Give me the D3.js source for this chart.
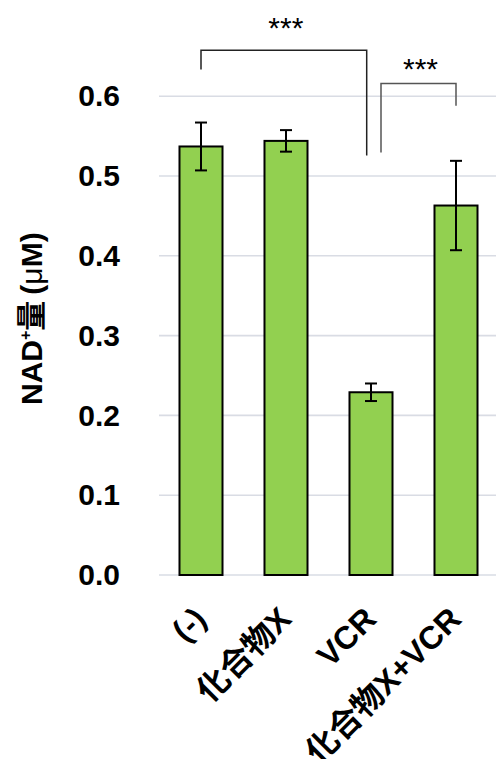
<!DOCTYPE html>
<html>
<head>
<meta charset="utf-8">
<script src="https://cdn.jsdelivr.net/npm/d3@7"></script>
<style>
  html, body { margin: 0; padding: 0; background: #fff; }
  svg { display: block; }
  text { font-family: "Liberation Sans", Arial, "Noto Sans CJK JP", sans-serif; }
</style>
</head>
<body>
<svg id="chart" width="496" height="759"></svg>
<script>
// NAD+ levels per treatment group (mean ± error)
const categories = ["(-)", "化合物X", "VCR", "化合物X+VCR"];
const means = [0.537, 0.544, 0.229, 0.463];
const errors = [0.030, 0.0135, 0.011, 0.056];
const yTicks = [0.0, 0.1, 0.2, 0.3, 0.4, 0.5, 0.6];

// significance comparisons: [from index, to index, label]
const comparisons = [
  [0, 2, "***"],
  [2, 3, "***"]
];

const svg = d3.select("#chart");
const FONT = '"Liberation Sans", Arial, "Noto Sans CJK JP", sans-serif';

const x = d3.scaleBand()
  .domain(categories)
  .range([158.5, 498.5])
  .paddingInner(0.494)
  .paddingOuter(0.247);

const y = d3.scaleLinear()
  .domain([0, 0.6])
  .range([575, 96.2]);

// gridlines
svg.append("g")
  .selectAll("line")
  .data(yTicks)
  .join("line")
  .attr("x1", 159)
  .attr("x2", 496)
  .attr("y1", d => y(d))
  .attr("y2", d => y(d))
  .attr("stroke", "#d9dce4")
  .attr("stroke-width", 1.6);

// y-axis tick labels
const yAxis = d3.axisLeft(y).tickValues(yTicks).tickFormat(d3.format(".1f")).tickSize(0).tickPadding(0);
const gy = svg.append("g").attr("transform", "translate(120,0)").call(yAxis);
gy.select(".domain").remove();
gy.selectAll("text")
  .attr("font-family", FONT)
  .attr("font-weight", "bold")
  .attr("font-size", 30)
  .attr("fill", "#000");

// bars
svg.append("g")
  .selectAll("rect")
  .data(categories)
  .join("rect")
  .attr("x", d => x(d))
  .attr("width", x.bandwidth())
  .attr("y", (d, i) => y(means[i]))
  .attr("height", (d, i) => y(0) - y(means[i]))
  .attr("fill", "#92d050")
  .attr("stroke", "#000")
  .attr("stroke-width", 2);

// error bars
const cx = d => x(d) + x.bandwidth() / 2;
const eb = svg.append("g").attr("stroke", "#000").attr("stroke-width", 2);
categories.forEach((c, i) => {
  const hi = y(means[i] + errors[i]);
  const lo = y(means[i] - errors[i]);
  eb.append("line").attr("x1", cx(c)).attr("x2", cx(c)).attr("y1", hi).attr("y2", lo);
  eb.append("line").attr("x1", cx(c) - 6).attr("x2", cx(c) + 6).attr("y1", hi).attr("y2", hi);
  eb.append("line").attr("x1", cx(c) - 6).attr("x2", cx(c) + 6).attr("y1", lo).attr("y2", lo);
});

// significance brackets
const bracketGeom = [
  { top: 0.6577, leftEnd: 0.6335, rightEnd: 0.5258, dxL: 0, dxR: -4.3, color: "#222", starY: 38 },
  { top: 0.616, leftEnd: 0.5296, rightEnd: 0.588, dxL: 10, dxR: 0, color: "#555", starY: 79 }
];
comparisons.forEach(([a, b, label], k) => {
  const g = bracketGeom[k];
  const xl = cx(categories[a]) + g.dxL;
  const xr = cx(categories[b]) + g.dxR;
  svg.append("path")
    .attr("d", `M${xl},${y(g.leftEnd)}V${y(g.top)}H${xr}V${y(g.rightEnd)}`)
    .attr("fill", "none")
    .attr("stroke", g.color)
    .attr("stroke-width", 1.5);
  svg.append("text")
    .attr("x", (xl + xr) / 2 + 2)
    .attr("y", g.starY)
    .attr("text-anchor", "middle")
    .attr("font-size", 30)
    .attr("fill", "#000")
    .text(label);
});

// category labels, rotated
svg.append("g")
  .selectAll("text")
  .data(categories)
  .join("text")
  .attr("transform", d => `translate(${cx(d) + 7},621) rotate(-45)`)
  .attr("text-anchor", "end")
  .attr("font-weight", "bold")
  .attr("font-size", 32)
  .attr("fill", "#000")
  .text(d => d);

// y-axis title
const yt = svg.append("text")
  .attr("transform", "translate(42,405) rotate(-90)")
  .attr("text-anchor", "start")
  .attr("font-weight", "bold")
  .attr("font-size", 30)
  .attr("fill", "#000");
yt.append("tspan").text("NAD");
yt.append("tspan").attr("font-size", 16).attr("dy", -11).text("+");
yt.append("tspan").attr("dy", 11).text("量");
yt.append("tspan").attr("dx", 6).text("(");
yt.append("tspan").attr("font-weight", "normal").text("μ");
yt.append("tspan").text("M)");
</script>
</body>
</html>
